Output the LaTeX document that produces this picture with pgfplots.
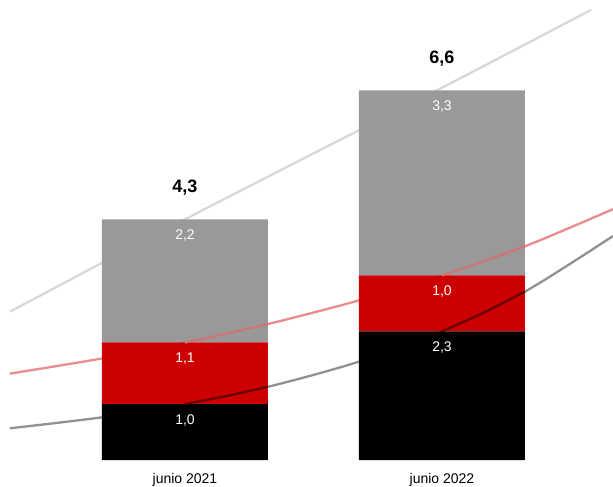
\documentclass[border=0pt]{standalone}
\usepackage{pgfplots}
\pgfplotsset{compat=1.18}
\usepackage{fontspec}
\setmainfont{Liberation Sans}
\definecolor{bargray}{RGB}{153,153,153}
\definecolor{barred}{RGB}{204,0,0}
\definecolor{lgline}{RGB}{216,216,216}
\definecolor{pkline}{RGB}{232,140,140}
\definecolor{dkline}{RGB}{145,145,145}
\definecolor{pkover}{RGB}{205,118,118}
\definecolor{dkover}{RGB}{105,0,0}
\pgfplotsset{base/.style={width=613pt,height=460pt,scale only axis,
  xmin=-0.7198,xmax=1.6654,ymin=0,ymax=8.214}}
\begin{document}
\begin{tikzpicture}
% curves behind the bars
\begin{axis}[base, hide axis]
 \addplot[lgline, line width=2.3pt, smooth] coordinates {(-0.681,2.65)(0,4.3)(1,6.65)(1.58,8.04)};
 \addplot[pkline, line width=2.3pt, smooth] coordinates {(-0.681,1.544)(-0.323,1.815)(0,2.1)(0.323,2.43)(0.677,2.852)(1,3.3)(1.323,3.818)(1.665,4.48)};
 \addplot[dkline, line width=2.3pt, smooth] coordinates {(-0.681,0.568)(-0.323,0.764)(0,1.0)(0.323,1.309)(0.677,1.758)(1,2.3)(1.323,3.01)(1.665,4.0)};
\end{axis}
% stacked bars
\begin{axis}[base, ybar stacked, bar width=166pt,
  axis line style={draw=none}, major tick length=0pt, ytick=\empty,
  xtick={0,1}, xticklabels={junio 2021, junio 2022},
  xticklabel style={font=\fontsize{14}{16}\selectfont, inner sep=0pt, yshift=-13pt}]
 \addplot[fill=black, draw=none] coordinates {(0,1.0)(1,2.3)};
 \addplot[fill=barred, draw=none] coordinates {(0,1.1)(1,1.0)};
 \addplot[fill=bargray, draw=none] coordinates {(0,2.2)(1,3.3)};
\end{axis}
% curve pieces drawn over the bars, segment labels and totals
\begin{axis}[base, hide axis]
 \addplot[pkover, line width=2.3pt, smooth] coordinates {(0,2.1)(0.16,2.257)(0.323,2.43)};
 \addplot[pkover, line width=2.3pt, smooth] coordinates {(1,3.3)(1.16,3.547)(1.323,3.818)};
 \addplot[dkover, line width=2.3pt, smooth] coordinates {(0,1.0)(0.16,1.143)(0.323,1.309)};
 \addplot[dkover, line width=2.3pt, smooth] coordinates {(1,2.3)(1.16,2.628)(1.323,3.01)};
 % segment labels, placed just under the top of each segment (cumulative heights)
 \addplot[draw=none, mark=none, point meta=explicit symbolic,
   nodes near coords=\pgfplotspointmeta,
   nodes near coords style={font=\fontsize{14}{16}\selectfont, text=white, anchor=north, inner sep=0pt, yshift=-10pt}]
   table[x=x,y=y,meta=lab]{
x y lab
0 1.0 1,0
0 2.1 1,1
0 4.3 2,2
1 2.3 2,3
1 3.3 1,0
1 6.6 3,3
};
 % totals
 \addplot[draw=none, mark=none, point meta=explicit symbolic,
   nodes near coords=\pgfplotspointmeta,
   nodes near coords style={font=\bfseries\fontsize{18}{20}\selectfont, text=black, anchor=center, yshift=32pt}]
   table[x=x,y=y,meta=lab]{
x y lab
0 4.3 4,3
1 6.6 6,6
};
\end{axis}
\end{tikzpicture}
\end{document}
